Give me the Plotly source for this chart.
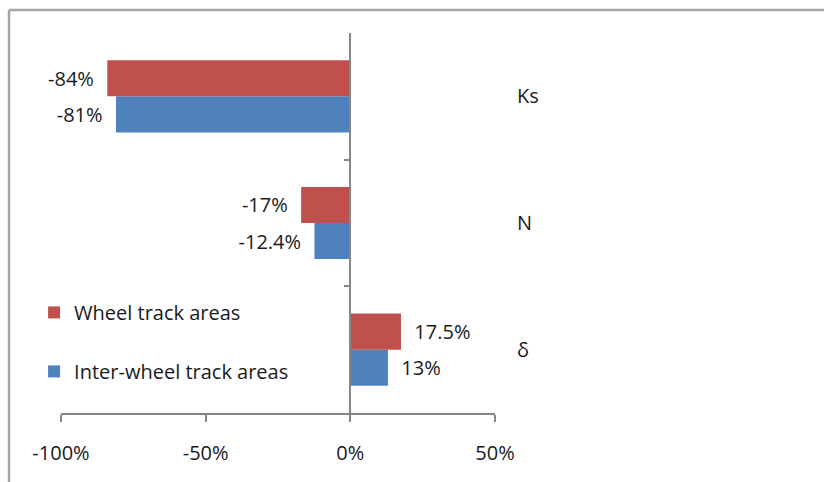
import plotly.graph_objects as go

categories = ["Ks", "N", "δ"]
wheel_vals = [-84, -17, 17.5]
wheel_text = ["-84%", "-17%", "17.5%"]
inter_vals = [-81, -12.4, 13]
inter_text = ["-81%", "-12.4%", "13%"]
tick_vals = [-100, -50, 0, 50]
tick_text = ["-100%", "-50%", "0%", "50%"]

RED = "#C0504D"
BLUE = "#4F81BD"
AXIS = "#868686"
FONT = dict(family="Open Sans", size=20, color="#1a1a1a")


def pad(labels, vals):
    out = []
    for t, v in zip(labels, vals):
        out.append(t + "  " if v < 0 else "  " + t)
    return out


fig = go.Figure()
fig.add_trace(go.Bar(
    y=categories, x=inter_vals, orientation="h", name="Inter-wheel track areas",
    marker=dict(color=BLUE, line=dict(width=0)),
    text=pad(inter_text, inter_vals), textposition="outside", textfont=FONT,
    cliponaxis=False, constraintext="none", legendrank=2, legendgroup="b",
))
fig.add_trace(go.Bar(
    y=categories, x=wheel_vals, orientation="h", name="Wheel track areas",
    marker=dict(color=RED, line=dict(width=0)),
    text=pad(wheel_text, wheel_vals), textposition="outside", textfont=FONT,
    cliponaxis=False, constraintext="none", legendrank=1, legendgroup="a",
))

fig.update_layout(
    width=824, height=482,
    margin=dict(l=61, r=329, t=33, b=69),
    paper_bgcolor="white", plot_bgcolor="white",
    barmode="group", bargap=0.43, bargroupgap=0,
    font=FONT,
    showlegend=True,
    legend=dict(x=-0.062, y=0.316, xanchor="left", yanchor="top",
                bgcolor="rgba(0,0,0,0)", font=FONT, tracegroupgap=30,
                traceorder="grouped"),
    xaxis=dict(range=[-100, 50], tickvals=tick_vals, ticktext=tick_text,
               showgrid=False, zeroline=False, showline=True, linecolor=AXIS,
               linewidth=1.5, ticks="outside", ticklen=7, tickcolor=AXIS,
               tickwidth=1.5, ticklabelstandoff=14, tickfont=FONT),
    yaxis=dict(type="category", categoryorder="array",
               categoryarray=categories[::-1], range=[-0.5, 2.5],
               anchor="free", position=2/3, side="right",
               showline=True, linecolor=AXIS, linewidth=1.5,
               ticks="inside", tickson="boundaries", ticklen=6,
               tickcolor=AXIS, tickwidth=1.5, showgrid=False, zeroline=False,
               ticklabelstandoff=162, tickfont=FONT),
    shapes=[
        dict(type="line", xref="paper", yref="paper", x0=-0.1198, x1=2.0,
             y0=1.0605, y1=1.0605, line=dict(color="#A6A6A6", width=2.5)),
        dict(type="line", xref="paper", yref="paper", x0=-0.1198, x1=-0.1198,
             y0=1.0605, y1=-0.5, line=dict(color="#A6A6A6", width=2.5)),
    ],
)

fig.write_html("out.html", post_script="document.body.style.margin='0';",
               config={"displayModeBar": False})
